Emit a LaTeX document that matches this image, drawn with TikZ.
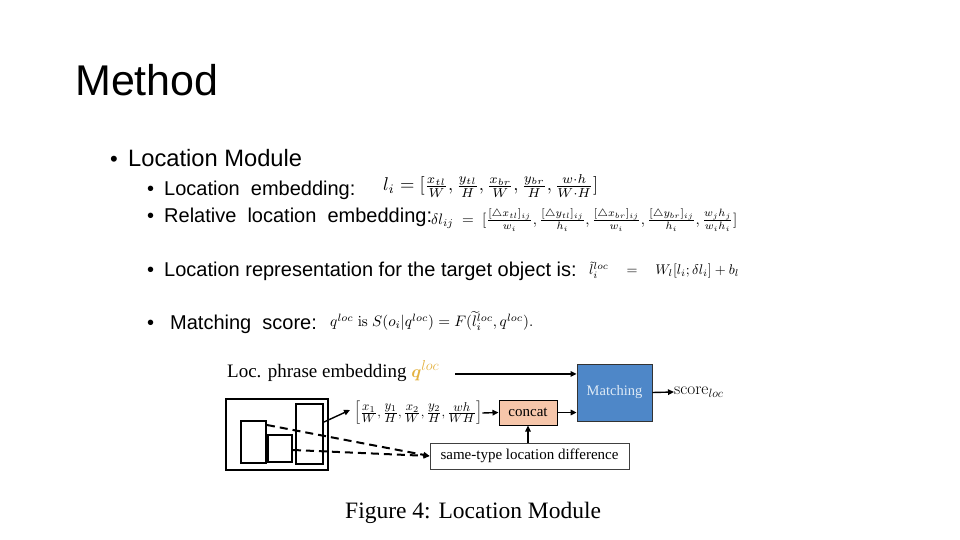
\documentclass[tikz,border=0pt]{standalone}
\usepackage[no-math]{fontspec}
\setmainfont{Liberation Sans}
\newfontfamily\figserif{Liberation Serif}
\usepackage{amsmath,graphicx}
\usetikzlibrary{arrows.meta}
\definecolor{matchblue}{RGB}{78,135,200}
\definecolor{matchtext}{RGB}{222,234,246}
\definecolor{concatfill}{RGB}{246,198,170}
\definecolor{qgold}{RGB}{228,178,64}
\newcommand{\myfr}[2]{\frac{\textstyle #1}{\textstyle #2}}
\tikzset{
  txt/.style={anchor=base west, inner sep=0pt},
  mathnode/.style={anchor=west, inner sep=0pt},
  subfont/.style={font=\fontsize{20}{24}\selectfont},
  objrect/.style={draw, line width=2pt, inner sep=0pt},
  arr/.style={line width=1.4pt, -{Triangle[length=6pt,width=5.5pt]}},
  dasharr/.style={line width=2pt, dash pattern=on 8pt off 5pt, -{Triangle[length=6pt,width=5.5pt]}},
}
\begin{document}
\begin{tikzpicture}[x=1pt,y=-1pt]
\useasboundingbox (0,0) rectangle (960,540);
\fill[white] (0,0) rectangle (960,540);

% title
\node[txt, font=\fontsize{43}{50}\selectfont] (title) at (75,96) {Method};

% level 1 bullet
\node[txt, font=\fontsize{22}{28}\selectfont] (b0) at (110,167) {•};
\node[txt, font=\fontsize{23.7}{28}\selectfont] (t0) at (128,167) {Location Module};

% level 2 bullets
\node[txt, subfont] (b1) at (147,195) {•};
\node[txt, subfont] (t1) at (164,195) {Location\ \ embedding:};
\node[txt, subfont] (b2) at (147,222) {•};
\node[txt, subfont] (t2) at (164,222) {Relative\ \ location\ \ embedding:};
\node[txt, subfont] (b3) at (147,276) {•};
\node[txt, subfont] (t3) at (164,276) {Location representation for the target object is:};
\node[txt, subfont] (b4) at (147,329) {•};
\node[txt, subfont] (t4) at (170,329) {Matching\ \ score:};

% formulas
\node[mathnode] (f1) at (383,186) {\resizebox{215pt}{!}{$l_i=[\frac{x_{tl}}{W},\frac{y_{tl}}{H},\frac{x_{br}}{W},\frac{y_{br}}{H},\frac{w\cdot h}{W\cdot H}]$}};
\node[mathnode] (f2) at (431,220) {\resizebox{306pt}{!}{$\delta l_{ij}\;=\;[\frac{[\triangle x_{tl}]_{ij}}{w_i},\frac{[\triangle y_{tl}]_{ij}}{h_i},\frac{[\triangle x_{br}]_{ij}}{w_i},\frac{[\triangle y_{br}]_{ij}}{h_i},\frac{w_jh_j}{w_ih_i}]$}};
\node[mathnode] (f3) at (589,270) {\resizebox{150pt}{!}{$\tilde{l}_i^{loc}\quad=\quad W_l[l_i;\delta l_i]+b_l$}};
\node[mathnode] (f4) at (330,321) {\resizebox{203pt}{!}{$q^{loc}\ \mathrm{is}\ S(o_i|q^{loc})=F(\widetilde{l}_i^{loc},q^{loc}).$}};

% figure
\node[txt, font=\figserif\fontsize{19}{22}\selectfont] (phrase) at (227,377) {Loc. phrase embedding \textcolor{qgold}{$\boldsymbol{q}^{loc}$}};

\node[draw=black!80, line width=0.8pt, fill=matchblue, minimum width=75pt, minimum height=57pt, inner sep=0pt,
      font=\figserif\fontsize{14.5}{17}\selectfont, text=matchtext] (match) at (614.5,392.5) {Matching};
\node[anchor=west, inner sep=0pt, font=\fontsize{17}{20}\selectfont] (score) at (674,392) {$\mathrm{score}_{loc}$};

\node[draw, line width=1pt, fill=concatfill, minimum width=58pt, minimum height=25pt, inner sep=0pt,
      font=\figserif\fontsize{15}{18}\selectfont] (concat) at (528,412.5) {concat};
\node[draw=black!75, line width=0.8pt, minimum width=199pt, minimum height=26pt, inner sep=0pt,
      font=\figserif\fontsize{15}{18}\selectfont] (diff) at (529.5,456) {same-type location difference};

\node[mathnode] (fx) at (354,413) {\resizebox{128pt}{!}{$\left[\myfr{x_1}{W},\myfr{y_1}{H},\myfr{x_2}{W},\myfr{y_2}{H},\myfr{wh}{WH}\right]$}};

\node[objrect, line width=2.4pt, minimum width=102pt, minimum height=71pt] (frame) at (277,434.5) {};
\node[objrect, minimum width=25pt, minimum height=42pt] (r1) at (253.5,442) {};
\node[objrect, minimum width=24pt, minimum height=27pt] (r2) at (280,448.5) {};
\node[objrect, minimum width=27pt, minimum height=60pt] (r3) at (309.5,434) {};

% connectors
\draw[arr] ([xshift=16pt,yshift=-3pt]phrase.east) -- ([yshift=-3pt]match.west |- phrase.east);
\draw[arr] (match.east) -- (score.west);
\draw[arr] (concat.east) -- (match.west |- concat.east);
\draw[arr] (fx.east) -- (concat.west);
\draw[arr] (concat.south |- diff.north) -- (concat.south);
\draw[arr] ([yshift=12pt]r3.east) -- ([xshift=-4pt,yshift=3pt]fx.west);
\draw[dasharr] ([yshift=-5pt]r1.north east) -- (diff.west);
\draw[dasharr] ([yshift=-1.5pt]r2.east) -- (diff.west);

% caption
\node[txt, font=\figserif\fontsize{23.5}{28}\selectfont] (caption) at (345,518) {Figure 4: Location Module};
\end{tikzpicture}
\end{document}
